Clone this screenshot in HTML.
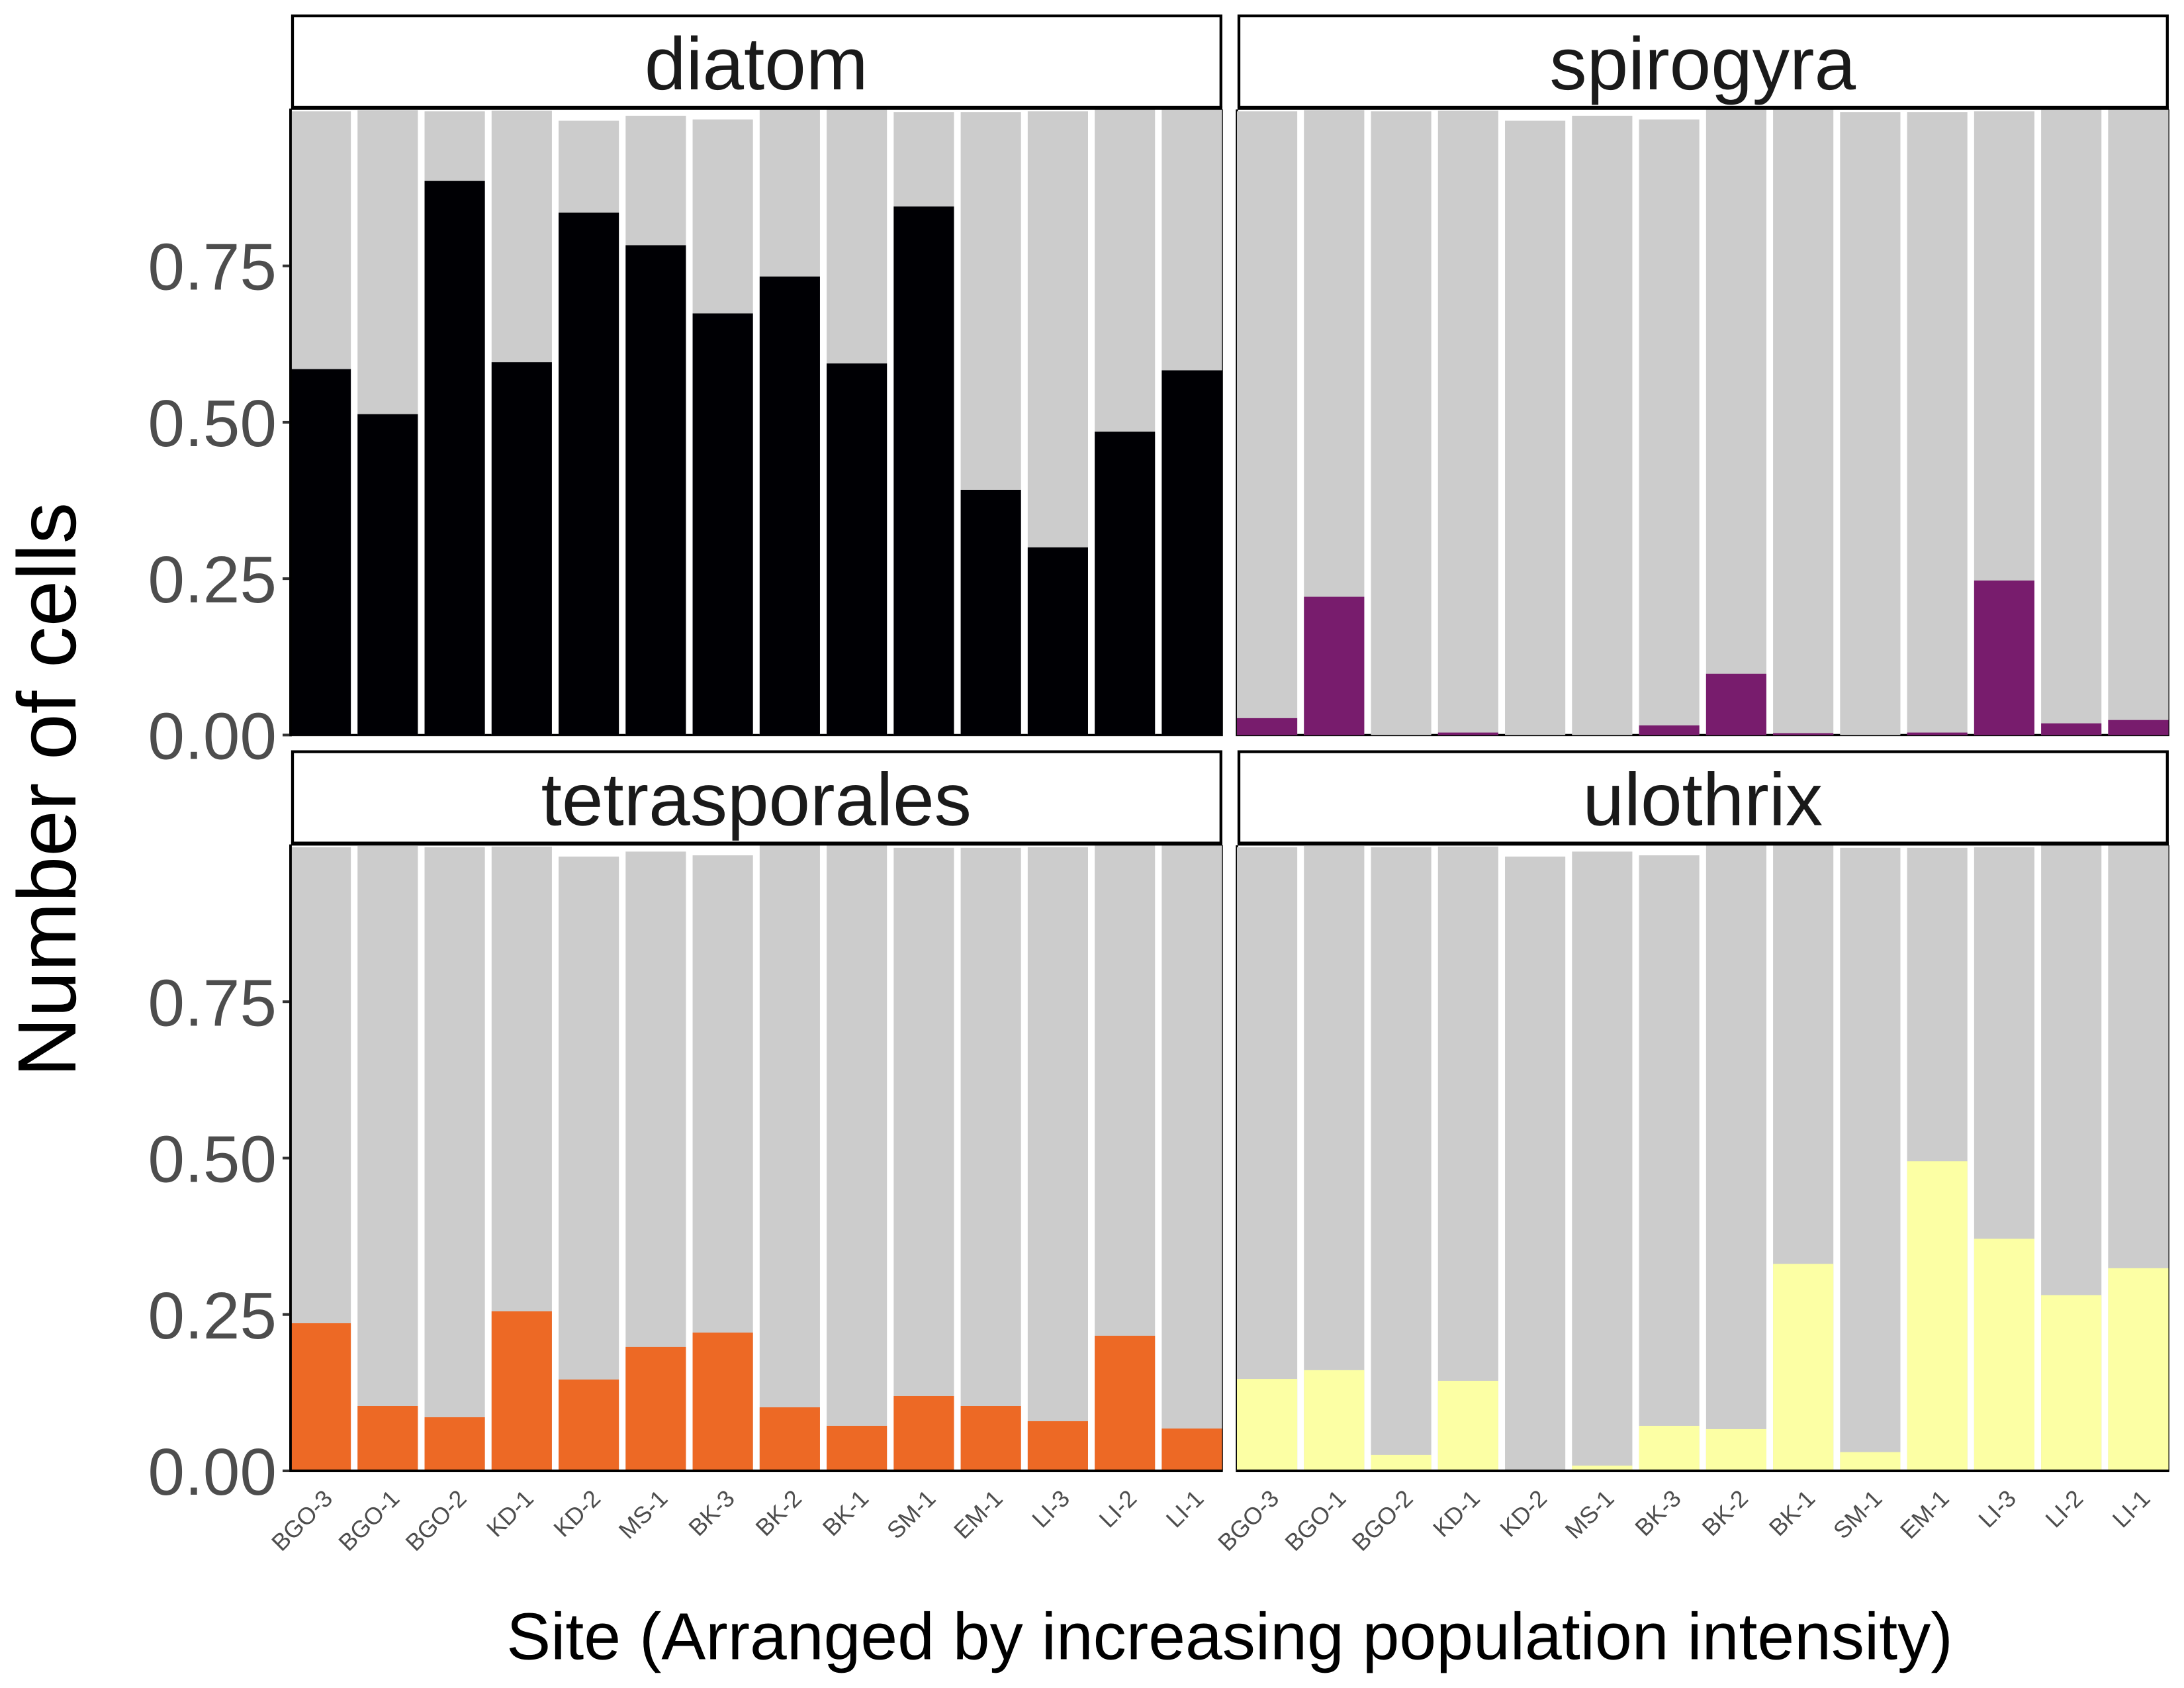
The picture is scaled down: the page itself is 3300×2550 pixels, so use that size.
<!DOCTYPE html>
<html lang="en">
<head>
<meta charset="utf-8">
<title>Algae proportion by site</title>
<style>
html,body{margin:0;padding:0;background:#fff;}
svg{display:block;}
text{font-family:"Liberation Sans",Arial,sans-serif;text-rendering:geometricPrecision;}
</style>
</head>
<body>
<svg id="chart" xmlns="http://www.w3.org/2000/svg" width="3300" height="2550" viewBox="0 0 3300 2550">
<rect x="0" y="0" width="3300" height="2550" fill="#ffffff"/>
<text x="114" y="1193" transform="rotate(-90 114 1193)" text-anchor="middle" font-size="125" fill="#000000">Number of cells</text>
<text x="1858" y="2506.5" text-anchor="middle" font-size="100.3" fill="#000000">Site (Arranged by increasing population intensity)</text>
</svg>
<script>
const sites = ["BGO-3","BGO-1","BGO-2","KD-1","KD-2","MS-1","BK-3","BK-2","BK-1","SM-1","EM-1","LI-3","LI-2","LI-1"];
const totals = [0.997,0.999,0.997,0.998,0.982,0.990,0.984,1,1,0.996,0.996,0.997,1,1];
const diatom = [0.585,0.513,0.886,0.596,0.835,0.783,0.674,0.733,0.594,0.845,0.392,0.300,0.485,0.583];
const spirogyra = [0.027,0.221,0,0.004,0,0,0.0155,0.098,0.003,0,0.004,0.247,0.0187,0.024];
const tetrasporales = [0.236,0.1037,0.0857,0.255,0.146,0.198,0.221,0.1016,0.072,0.1196,0.1037,0.0794,0.216,0.0677];
const ulothrix = [0.147,0.161,0.0255,0.144,0,0.0084,0.072,0.0667,0.331,0.030,0.495,0.371,0.281,0.324];
const yTicks = [0,0.25,0.5,0.75];
const yTickLabels = ["0.00","0.25","0.50","0.75"];

const NS = "http://www.w3.org/2000/svg";
const svg = document.getElementById("chart");
const PANEL_W = 1407.5;
const PANEL_H = 945;
const BAND_FRACTION = 0.9;
const panels = [
  {title:"diatom", values:diatom, color:"#000004", left:439, top:165.4, col:0, row:0},
  {title:"spirogyra", values:spirogyra, color:"#781C6D", left:1869, top:165.4, col:1, row:0},
  {title:"tetrasporales", values:tetrasporales, color:"#ED6925", left:439, top:1277, col:0, row:1},
  {title:"ulothrix", values:ulothrix, color:"#FCFFA4", left:1869, top:1277, col:1, row:1}
];

function make(tag, attrs, parent) {
  const el = document.createElementNS(NS, tag);
  for (const key in attrs) el.setAttribute(key, attrs[key]);
  parent.appendChild(el);
  return el;
}

function xScale(panel, position) {
  return panel.left + (position + 0.45) * PANEL_W / (sites.length - 0.1);
}

function yScale(panel, value) {
  return panel.top + PANEL_H * (1 - value);
}

panels.forEach(function (panel) {
  const group = make("g", {}, svg);
  
  

  const right = panel.left + PANEL_W;
  const bottom = yScale(panel, 0);

  const border = make("path", {
    d: "M" + panel.left + " " + panel.top + "V" + bottom + "H" + (right - 0.4) + "V" + panel.top,
    fill: "none", stroke: "#000000", "stroke-width": 3.4
  }, group);
  
  

  const step = PANEL_W / (sites.length - 0.1);
  const barWidth = step * BAND_FRACTION;

  sites.forEach(function (site, i) {
    const x = xScale(panel, i) - barWidth / 2;
    const back = make("rect", {
      x: x, y: yScale(panel, totals[i]), width: barWidth,
      height: bottom - yScale(panel, totals[i]), fill: "#CCCCCC"
    }, group);
    
    

    const value = panel.values[i];
    if (value > 0) {
      const bar = make("rect", {
        x: x, y: yScale(panel, value), width: barWidth,
        height: bottom - yScale(panel, value), fill: panel.color
      }, group);
      
      
    }
  });

  // strip
  const stripTop = panel.top - 143.4;
  const strip = make("rect", {
    x: panel.left + 3, y: stripTop + 2, width: PANEL_W - 4.7, height: 138,
    fill: "#ffffff", stroke: "#000000", "stroke-width": 4.3
  }, group);
  
  

  const stripRule = make("rect", {
    x: panel.left + 1, y: stripTop + 138, width: PANEL_W - 0.5, height: 5.8, fill: "#000000"
  }, group);
  
  

  const stripLabel = make("text", {
    x: panel.left + PANEL_W / 2, y: panel.top - 30.4,
    "text-anchor": "middle", "font-size": 112.5, fill: "#1A1A1A"
  }, group);
  stripLabel.textContent = panel.title;
  
  

  // left axis
  if (panel.col === 0) {
    const yAxis = make("line", {
      x1: panel.left, x2: panel.left, y1: panel.top - 1.4, y2: bottom + 2,
      stroke: "#000000", "stroke-width": 3.8
    }, group);
    
    

    yTicks.forEach(function (tick, t) {
      const y = yScale(panel, tick);
      const mark = make("line", {
        x1: panel.left - 12, x2: panel.left - 2, y1: y, y2: y,
        stroke: "#333333", "stroke-width": 4
      }, group);
      
      

      const label = make("text", {
        x: panel.left - 21, y: y + 36,
        "text-anchor": "end", "font-size": 100, fill: "#4D4D4D"
      }, group);
      label.textContent = yTickLabels[t];
      
      
    });
  }

  // bottom axis
  if (panel.row === 1) {
    const xAxis = make("line", {
      x1: panel.left - 1.5, x2: right + 0.5, y1: bottom, y2: bottom,
      stroke: "#000000", "stroke-width": 4
    }, group);
    
    

    sites.forEach(function (site, i) {
      const tx = xScale(panel, i) + 20;
      const ty = bottom + 44;
      const label = make("text", {
        x: tx, y: ty, transform: "rotate(-45 " + tx + " " + ty + ")",
        "text-anchor": "end", "font-size": 36, fill: "#4D4D4D"
      }, group);
      label.textContent = site;
      
      
    });
  }
});
</script>
</body>
</html>
